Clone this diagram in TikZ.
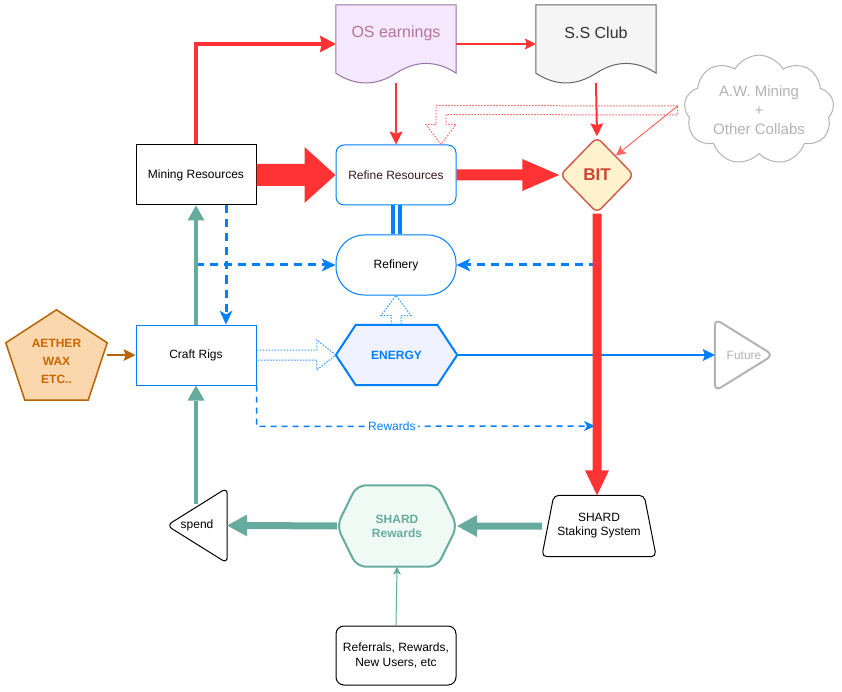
\documentclass[tikz,border=0pt]{standalone}
\usepackage{fontspec}
\setmainfont{Liberation Sans}
\usetikzlibrary{shapes.geometric,shapes.symbols,arrows.meta,calc}
\pgfdeclarelayer{bg}
\pgfsetlayers{bg,main}

\definecolor{fred}{HTML}{FF3333}
\definecolor{fredlt}{HTML}{FF6666}
\definecolor{fblue}{HTML}{007FFF}
\definecolor{fbluelt}{HTML}{3399FF}
\definecolor{fgreen}{HTML}{67AB9F}
\definecolor{osfill}{HTML}{F5E8FC}
\definecolor{osdraw}{HTML}{9673A6}
\definecolor{ostext}{HTML}{B5739D}
\definecolor{ssfill}{HTML}{F5F5F5}
\definecolor{ssdraw}{HTML}{666666}
\definecolor{sstext}{HTML}{333333}
\definecolor{bitfill}{HTML}{FFF2CC}
\definecolor{bitdraw}{HTML}{D0604F}
\definecolor{bittext}{HTML}{CC4433}
\definecolor{ofill}{HTML}{FAD7AC}
\definecolor{odraw}{HTML}{B46504}
\definecolor{otext}{HTML}{CC6600}
\definecolor{efill}{HTML}{F0F2FF}
\definecolor{sfill}{HTML}{F0FAF4}
\definecolor{fgray}{HTML}{B3B3B3}
\definecolor{refinetext}{HTML}{331A1A}

% wavy-bottomed document outline around a holder node
\newcommand\docoutline[2]{%
  \path[#2] (#1.north west) -- (#1.north east) -- ($(#1.south east)+(0,-10)$)
    .. controls ($(#1.south east)+(-20,-23)$) and ($(#1.south)+(20,-23)$) .. ($(#1.south)+(0,-10)$)
    .. controls ($(#1.south)+(-20,3)$) and ($(#1.south west)+(20,3)$) .. ($(#1.south west)+(0,-10)$)
    -- cycle;}
% hexagon outline around a holder node
\newcommand\hexoutline[3]{%
  \path[#3] (#1.west) -- ($(#1.north west)+(#2,0)$) -- ($(#1.north east)+(-#2,0)$)
    -- (#1.east) -- ($(#1.south east)+(-#2,0)$) -- ($(#1.south west)+(#2,0)$) -- cycle;}

\begin{document}
\begin{tikzpicture}[x=1pt,y=-1pt,
  txt/.style={font=\fontsize{12}{14}\selectfont, align=center},
  box/.style={txt, rectangle, minimum width=120pt, minimum height=60pt, inner sep=0pt, line width=1pt},
  holder/.style={rectangle, inner sep=0pt, align=center},
  classic/.style={-{Stealth[length=#1, width=#1, inset=2pt, line width=0pt]}},
  classic/.default=11pt,
  redline/.style={draw=fred, line width=1.5pt, classic},
  bluedash/.style={draw=fblue, line width=3pt, dash pattern=on 8pt off 6pt,
    -{Stealth[length=14pt, width=13pt, inset=4pt, line width=0pt]}},
  bluedot/.style={draw=fbluelt, line width=1pt, dash pattern=on 1.5pt off 1.5pt, line join=miter},
  greenup/.style={draw=fgreen, line width=4pt, -{Triangle[length=15pt, width=17pt, line width=0pt]}},
]
\useasboundingbox (0,0) rectangle (842,692);
\begin{pgfonlayer}{bg}
  \fill[white] (0,0) rectangle (842,692);
\end{pgfonlayer}

% ---------- nodes ----------
\node[box, draw=black] (mining) at (196,175) {Mining Resources};
\node[box, draw=fblue, rounded corners=8pt, text=refinetext] (refine) at (396,175) {Refine Resources};
\node[box, draw=fblue, rounded corners=28pt] (refinery) at (396,265) {Refinery};
\node[box, draw=fblue] (craft) at (196,355) {Craft Rigs};
\node[box, draw=black, rounded corners=8pt, minimum height=59pt,
      font=\fontsize{12}{15}\selectfont] (referrals) at (396,655.5) {Referrals, Rewards,\\New Users, etc};

\node[holder, minimum width=120pt, minimum height=78pt] (os) at (396,44) {};
\node[txt, font=\fontsize{16}{18}\selectfont, text=ostext] (ostxt) at (396,33) {OS earnings};
\node[holder, minimum width=120pt, minimum height=78pt] (ss) at (596,44) {};
\node[txt, font=\fontsize{16}{18}\selectfont, text=sstext] (sstxt) at (596,33) {S.S Club};

\node[diamond, draw=bitdraw, fill=bitfill, line width=1.5pt, rounded corners=6pt,
      minimum width=74pt, minimum height=76pt, inner sep=0pt, text=bittext,
      font=\bfseries\fontsize{17}{20}\selectfont] (bit) at (597,175) {BIT};

\node[cloud, cloud puffs=9, cloud puff arc=120, aspect=1.45, draw=fgray, line width=1pt,
      minimum width=150pt, minimum height=104pt, inner sep=0pt, align=center, text=fgray,
      font=\fontsize{15}{19}\selectfont] (aw) at (759,110) {A.W. Mining\\+\\Other Collabs};

\node[holder, minimum width=101pt, minimum height=90pt] (aether) at (56.5,355) {};
\node[txt, font=\bfseries\fontsize{12}{18}\selectfont, text=otext] (aethertxt) at (56.5,361) {AETHER\\WAX\\ETC..};

\node[holder, minimum width=121pt, minimum height=60pt, text=fblue,
      font=\bfseries\fontsize{12}{14}\selectfont] (energy) at (396.5,355) {ENERGY};
\node[holder, minimum width=58pt, minimum height=72pt, text=fgray,
      font=\fontsize{12}{14}\selectfont] (future) at (744,355) {Future};

\node[holder, minimum width=114pt, minimum height=61pt,
      font=\fontsize{12}{14}\selectfont] (staking) at (599,526) {SHARD\\Staking System};
\node[holder, minimum width=120pt, minimum height=81pt, text=fgreen,
      font=\bfseries\fontsize{12}{14}\selectfont] (shard) at (397,526) {SHARD\\Rewards};
\node[holder, minimum width=60pt, minimum height=75pt,
      font=\fontsize{12}{14}\selectfont] (spend) at (197,525.5) {spend};

% ---------- outlines of the drawn shapes ----------
\begin{pgfonlayer}{bg}
  \docoutline{os}{fill=osfill, draw=osdraw, line width=1pt}
  \docoutline{ss}{fill=ssfill, draw=ssdraw, line width=1pt}
  \hexoutline{energy}{20}{fill=efill, draw=fblue, line width=2pt}
  \hexoutline{shard}{20}{fill=sfill, draw=fgreen, line width=2pt, rounded corners=9pt}
  \path[draw=black, fill=white, line width=1pt, rounded corners=6pt]
    (spend.west) -- (spend.north east) -- (spend.south east) -- cycle;
  \path[draw=fgray, line width=2pt, rounded corners=7pt]
    (future.north west) -- (future.east) -- (future.south west) -- cycle;
  \path[draw=black, fill=white, line width=1pt, rounded corners=5pt]
    ($(staking.north west)+(12,0)$) -- ($(staking.north east)+(-12,0)$)
    -- (staking.south east) -- (staking.south west) -- cycle;
  \path[draw=odraw, fill=ofill, line width=1.5pt]
    (aether.north) -- ($(aether.north east)+(0,33)$) -- ($(aether.south east)+(-19,0)$)
    -- ($(aether.south west)+(19,0)$) -- ($(aether.north west)+(0,33)$) -- cycle;
\end{pgfonlayer}

% ---------- red flows ----------
\draw[draw=fred, line width=4pt, -{Stealth[length=16pt, width=17pt, inset=2pt, line width=0pt]}]
  (mining.north) |- (os.west);
\draw[redline] (os.east) -- (ss.west);
\draw[draw=fred, line width=2pt, classic=13pt] (os.south) -- (refine.north);
\draw[draw=fred, line width=2pt, classic=13pt] (ss.south) -- (bit.north);
\coordinate (awtail) at ($(aw.west)+(-7,-4)$);
\draw[draw=fredlt, line width=1pt, classic=10pt] (awtail) -- (bit.north east);
\draw[draw=fredlt, line width=1pt, dash pattern=on 1.5pt off 1.5pt]
  (awtail) -- ($(refine.north)+(40,-39)$) -- ($(refine.north)+(40,-20)$)
  -- ($(refine.north)+(30,-20)$) -- ($(refine.north)+(45,0)$) -- ($(refine.north)+(60,-20)$)
  -- ($(refine.north)+(50,-20)$) -- ($(refine.north)+(50,-30)$) -- ($(awtail)+(0,9)$) -- cycle;

% broad filled arrows
\fill[fred] ($(mining.east)+(0,-11)$) -- ($(refine.west)+(-31,-11)$) -- ($(refine.west)+(-31,-28)$)
  -- (refine.west) -- ($(refine.west)+(-31,28)$) -- ($(refine.west)+(-31,11)$)
  -- ($(mining.east)+(0,11)$) -- cycle;
\fill[fred] ($(refine.east)+(0,-5.5)$) -- ($(bit.west)+(-37,-5.5)$) -- ($(bit.west)+(-37,-16)$)
  -- (bit.west) -- ($(bit.west)+(-37,16)$) -- ($(bit.west)+(-37,5.5)$)
  -- ($(refine.east)+(0,5.5)$) -- cycle;

% ---------- blue flows ----------
\draw[draw=fblue, line width=4pt, double=white, double distance=3pt] (refine.south) -- (refinery.north);
\draw[bluedash] ($(mining.south)+(30,0)$) -- ($(craft.north)+(30,0)$);
\draw[bluedash] (refinery.west -| mining.south) -- (refinery.west);
\draw[bluedash] (refinery.east -| bit.south) -- (refinery.east);
\coordinate (rwend) at ($(staking.north)+(-4,-100)$);
\draw[draw=fblue, line width=1.5pt, dash pattern=on 6pt off 5pt,
      -{Stealth[length=11pt, width=10pt, inset=3pt, line width=0pt]}]
  (craft.south east) -- ($(craft.south east)+(0,41)$) -- node[pos=0.4, fill=white, text=fblue,
  font=\fontsize{12}{14}\selectfont, inner sep=2pt] (rwlabel) {Rewards} (rwend |- 0,426);
\draw[bluedot] ($(craft.east)+(0,-5)$) -- ($(energy.west)+(-19,-5)$) -- ($(energy.west)+(-19,-15)$)
  -- (energy.west) -- ($(energy.west)+(-19,15)$) -- ($(energy.west)+(-19,5)$) -- ($(craft.east)+(0,5)$);
\draw[bluedot] ($(energy.north)+(-5.5,0)$) -- ($(refinery.south)+(-5,20)$) -- ($(refinery.south)+(-15,20)$)
  -- (refinery.south) -- ($(refinery.south)+(15,20)$) -- ($(refinery.south)+(5,20)$) -- ($(energy.north)+(4.5,0)$);
\draw[draw=fblue, line width=1.5pt, classic=12pt] (energy.east) -- (future.west);

% BIT down to staking (drawn over the blue dashes)
\fill[fred] ($(bit.south)+(-4.5,0)$) -- ($(staking.north)+(-6.5,-25)$) -- ($(staking.north)+(-14,-25)$)
  -- ($(staking.north)+(-2,0)$) -- ($(staking.north)+(10,-25)$) -- ($(staking.north)+(2.5,-25)$)
  -- ($(bit.south)+(4.5,0)$) -- cycle;

% ---------- orange ----------
\draw[draw=odraw, line width=1.5pt, classic=12pt] (aether.east) -- (craft.west);

% ---------- green flows ----------
\draw[greenup] (craft.north) -- (mining.south);
\draw[greenup] ($(spend.north)+(-1,16)$) -- (craft.south);
\fill[fgreen] ($(staking.west)+(0,-3.5)$) -- ($(shard.east)+(20,-3.5)$) -- ($(shard.east)+(20,-11)$)
  -- (shard.east) -- ($(shard.east)+(20,11)$) -- ($(shard.east)+(20,3.5)$)
  -- ($(staking.west)+(0,3.5)$) -- cycle;
\fill[fgreen] ($(shard.west)+(0,-3.5)$) -- ($(spend.east)+(20,-3.5)$) -- ($(spend.east)+(20,-11)$)
  -- (spend.east) -- ($(spend.east)+(20,11)$) -- ($(spend.east)+(20,3.5)$)
  -- ($(shard.west)+(0,3.5)$) -- cycle;
\draw[draw=fgreen, line width=1pt, classic=8pt] (referrals.north) -- (shard.south);
\end{tikzpicture}
\end{document}
